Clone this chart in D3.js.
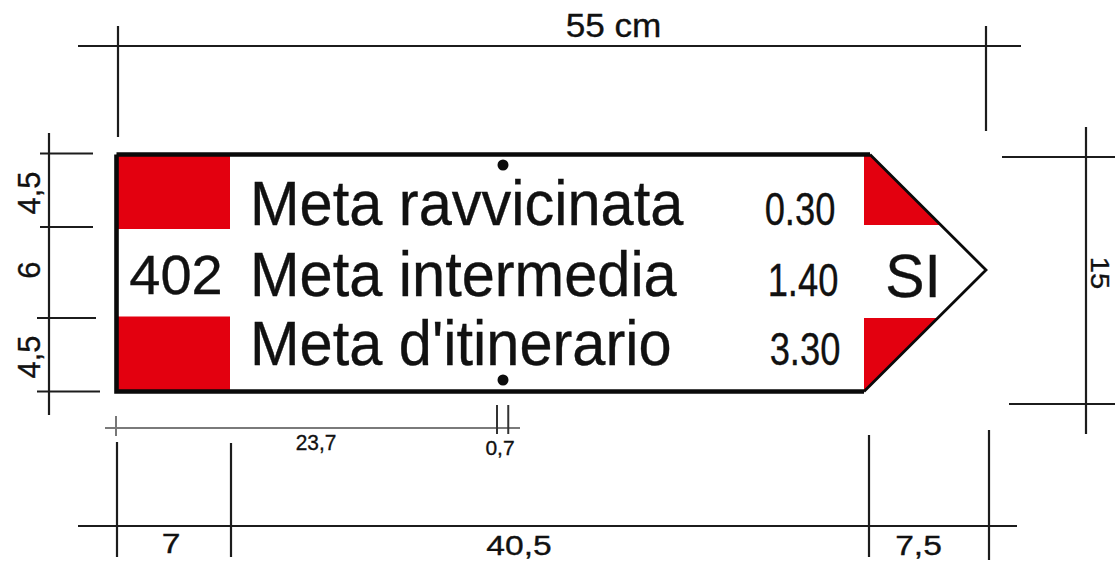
<!DOCTYPE html>
<html><head><meta charset="utf-8">
<script src="https://cdn.jsdelivr.net/npm/d3@7/dist/d3.min.js"></script>
<style>html,body{margin:0;background:#fff}svg{display:block}text{font-family:"Liberation Sans",Arial,sans-serif;fill:#111;stroke:#111;stroke-width:.35px}</style>
</head><body><svg id="c" width="1115" height="561"></svg>
<script>
const destinations = ["Meta ravvicinata", "Meta intermedia", "Meta d'itinerario"];
const times = ["0.30", "1.40", "3.30"];
const routeNumber = "402";
const countryCode = "SI";
const widthSegments = [7, 40.5, 7.5];
const widthLabels = ["7", "40,5", "7,5"];
const heightSegments = [4.5, 6, 4.5];
const heightLabels = ["4,5", "6", "4,5"];
const totalWidthLabel = "55 cm";
const totalHeightLabel = "15";
const holeOffsets = [23.7, 0.7];
const holeLabels = ["23,7", "0,7"];

const cum = a => a.reduce((o, v) => (o.push(o[o.length - 1] + v), o), [0]);
const xs = cum(widthSegments), ys = cum(heightSegments);
const x = d3.scaleLinear().domain(xs).range([116.5, 230, 864, 986]);
const y = d3.scaleLinear().domain([0, 4.5, 7.5, 10.5, 15]).range([154.5, 229, 270, 316.5, 391.5]);
const holeX = cum(holeOffsets);
const holeScale = d3.scaleLinear().domain([0, 23.7]).range([116, 497]);
const svg = d3.select("#c");
const RED = "#e3000f", INK = "#1c1c1c";

const line = (x1, y1, x2, y2, w = 2.2, c = INK) =>
  svg.append("line").attr("x1", x1).attr("y1", y1).attr("x2", x2).attr("y2", y2)
     .attr("stroke", c).attr("stroke-width", w);
const text = (s, px, py, size, opt = {}) =>
  svg.append("text").text(s).attr("font-size", size)
     .attr("text-anchor", opt.anchor || "middle")
     .attr("transform", `translate(${px},${py}) rotate(${opt.rot || 0}) scale(${opt.sx || 1},1)`);

// red corner fields
[[0, 1], [2, 3]].forEach(([a, b]) => {
  svg.append("rect").attr("x", x(0)).attr("y", y(ys[a])).attr("width", x(7) - x(0))
     .attr("height", y(ys[b]) - y(ys[a])).attr("fill", RED);
});
const topCorner = x(47.5) + 6;
const diagTop = py => topCorner + (x(55) - topCorner) * (py - y(0)) / (y(7.5) - y(0));
const diagBot = py => x(47.5) + (x(55) - x(47.5)) * (y(15) - py) / (y(15) - y(7.5));
const triTopY = y(4.5) - 4, triBotY = y(10.5) + 1.5;
const poly = pts => d3.line()(pts) + "Z";
svg.append("path").attr("fill", RED)
   .attr("d", poly([[x(47.5), y(0)], [topCorner, y(0)], [diagTop(triTopY), triTopY], [x(47.5), triTopY]]));
svg.append("path").attr("fill", RED)
   .attr("d", poly([[x(47.5), triBotY], [diagBot(triBotY), triBotY], [x(47.5), y(15)]]));

// sign outline
svg.append("path").attr("fill", "none").attr("stroke", "#0a0a0a").attr("stroke-width", 4.6)
   .attr("d", `M${x(0)},${y(0)}H${topCorner}`);
svg.append("path").attr("fill", "none").attr("stroke", "#0a0a0a").attr("stroke-width", 4.6)
   .attr("d", `M${x(47.5)},${y(15)}H${x(0)}V${y(0)}`);
svg.append("path").attr("fill", "none").attr("stroke", "#0a0a0a").attr("stroke-width", 2.8)
   .attr("d", `M${topCorner},${y(0)}L${x(55)},${y(7.5)}L${x(47.5)},${y(15)}`);

// destinations
const rowBase = [225, 296, 365];
destinations.forEach((d, i) => text(d, 250, rowBase[i], 62, { anchor: "start", sx: 0.96 }));
const timeX = [800, 803, 805];
times.forEach((d, i) => text(d, timeX[i], rowBase[i], 46, { sx: 0.79 }));
text(routeNumber, 176, 294, 56);
text(countryCode, 913, 297, 62, { sx: 0.95 });

// holes
[165, 380].forEach(py => svg.append("circle").attr("cx", 503).attr("cy", py).attr("r", 5.5).attr("fill", "#0c0c0c"));

// top dimension
line(78, 46, 1021, 46);
line(118, 26, 118, 137);
line(x(55), 26, x(55), 131);
text(totalWidthLabel, 613.5, 37, 33.5, { sx: 1.05 });

// left dimension
line(49, 133, 49, 415);
const leftEnds = [[40, 93, 153.5], [40, 93, 227], [37, 96, 318], [37, 100, 391.5]];
leftEnds.forEach(e => line(e[0], e[2], e[1], e[2]));
const leftMid = [193, 270, 357];
heightLabels.forEach((s, i) => text(s, 40, leftMid[i], 31, { rot: -90 }));

// right dimension
line(1086, 127, 1086, 434);
line(1002, 157, 1115, 157);
line(1009, 404, 1115, 404);
text(totalHeightLabel, 1090.5, 273, 26.5, { rot: 90, sx: 1.1 });

// hole offset dimension
line(105, 428, 520, 428, 2.2, "#7a7a7a");
holeX.forEach((v, i) => {
  const px = holeScale(v);
  if (i === 0) line(px, 416, px, 436, 2, "#777");
  else line(px, 405, px, 434, 2, "#333");
});
text(holeLabels[0], 316, 450, 22, { sx: 0.95 });
text(holeLabels[1], 500, 455, 21);

// bottom dimension
line(78, 526, 1017, 526);
const botX = [117, 231, 869, 989];
const botTop = [442, 443, 435, 430];
const botEnd = [557, 557, 557, 560];
botX.forEach((px, i) => line(px, botTop[i], px, botEnd[i]));
const botLabelX = [171, 519, 918.5], botBase = [553, 555, 555];
widthLabels.forEach((s, i) => text(s, botLabelX[i], botBase[i], 28, { sx: 1.2 }));
</script></body></html>
